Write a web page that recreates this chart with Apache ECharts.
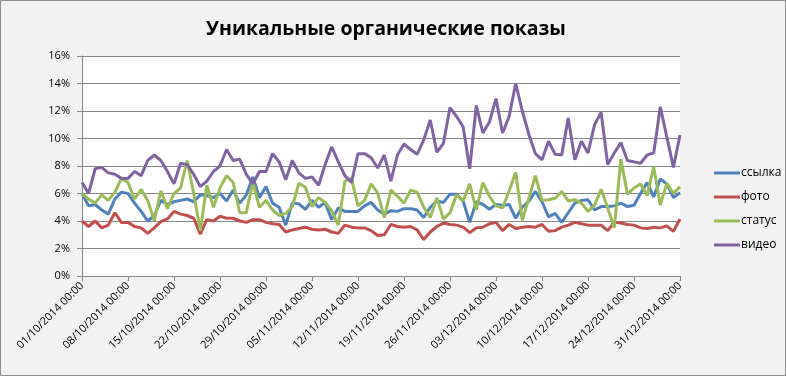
<!DOCTYPE html>
<html>
<head>
<meta charset="utf-8">
<script src="https://cdn.jsdelivr.net/npm/echarts@6/dist/echarts.min.js"></script>
<style>
  html, body { margin: 0; padding: 0; background: #f2f2f2; }
  #chart { width: 786px; height: 376px; }
</style>
</head>
<body>
<div id="chart"></div>
<script>
// 01/10/2014 .. 31/12/2014, daily
const dates = [];
(function () {
  const d = new Date(Date.UTC(2014, 9, 1));
  const end = new Date(Date.UTC(2014, 11, 31));
  while (d <= end) {
    const dd = String(d.getUTCDate()).padStart(2, "0");
    const mm = String(d.getUTCMonth() + 1).padStart(2, "0");
    dates.push(dd + "/" + mm + "/" + d.getUTCFullYear() + " 00:00");
    d.setUTCDate(d.getUTCDate() + 1);
  }
})();

const seriesNames = ["ссылка", "фото", "статус", "видео"];

const link = [
  6.0, 5.1, 5.2, 4.8, 4.5, 5.6, 6.1, 6.0, 5.3, 4.7, 4.0, 4.4, 5.5, 5.2, 5.4, 5.5,
  5.6, 5.4, 5.9, 5.85, 5.7, 6.0, 5.45, 6.25, 5.3, 5.9, 7.2, 5.7, 6.5, 5.3, 5.0, 3.7,
  5.3, 5.25, 4.85, 5.5, 5.0, 5.35, 4.1, 4.95, 4.7, 4.7, 4.7, 5.1, 5.35, 4.8, 4.5, 4.75,
  4.7, 4.9, 4.9, 4.8, 4.25, 5.0, 5.45, 5.35, 5.95, 5.95, 5.45, 3.9, 5.4, 5.2, 4.85, 5.2,
  5.15, 5.2, 4.2, 5.0, 5.45, 6.15, 5.4, 4.3, 4.55, 3.9, 4.6, 5.3, 5.5, 5.55, 4.8, 5.05,
  5.05, 5.1, 5.3, 5.05, 5.15, 6.0, 6.8, 5.75, 7.05, 6.7, 5.7, 6.05
];
const photo = [
  4.0, 3.6, 4.0, 3.5, 3.7, 4.6, 3.9, 3.9, 3.6, 3.5, 3.1, 3.5, 3.95, 4.15, 4.7, 4.5,
  4.4, 4.2, 3.05, 4.1, 4.0, 4.35, 4.2, 4.2, 4.0, 3.9, 4.1, 4.1, 3.9, 3.8, 3.75, 3.2,
  3.35, 3.45, 3.55, 3.4, 3.35, 3.4, 3.2, 3.1, 3.7, 3.55, 3.5, 3.5, 3.3, 2.95, 3.0, 3.75,
  3.6, 3.55, 3.6, 3.35, 2.65, 3.2, 3.6, 3.85, 3.75, 3.7, 3.55, 3.15, 3.5, 3.55, 3.8, 3.9,
  3.3, 3.75, 3.45, 3.55, 3.6, 3.55, 3.75, 3.25, 3.3, 3.55, 3.7, 3.9, 3.8, 3.7, 3.7, 3.7,
  3.3, 3.9, 3.85, 3.75, 3.7, 3.5, 3.45, 3.55, 3.5, 3.65, 3.25, 4.15
];
const status = [
  6.0, 5.6, 5.3, 5.9, 5.5, 6.1, 7.1, 6.8, 5.6, 6.3, 5.5, 4.0, 6.2, 4.9, 6.0, 6.4,
  8.4, 6.0, 3.3, 6.6, 5.0, 6.4, 7.3, 6.8, 4.6, 4.6, 6.8, 5.0, 5.5, 4.8, 4.4, 4.55,
  5.05, 6.75, 6.45, 5.05, 5.7, 5.35, 4.75, 3.7, 6.9, 7.1, 5.1, 5.5, 6.7, 6.05, 4.25, 6.25,
  5.8, 5.3, 6.25, 6.1, 5.0, 4.25, 5.7, 4.15, 4.6, 5.9, 5.45, 6.7, 4.8, 6.8, 5.8, 5.1,
  4.95, 6.2, 7.55, 4.05, 5.65, 7.3, 5.5, 5.55, 5.65, 6.15, 5.45, 5.55, 5.3, 4.7, 5.15, 6.3,
  4.95, 3.5, 8.5, 5.95, 6.4, 6.7, 5.85, 7.95, 5.15, 6.75, 6.0, 6.5
];
const video = [
  6.8, 6.0, 7.8, 7.9, 7.5, 7.4, 7.1, 7.1, 7.6, 7.3, 8.4, 8.8, 8.4, 7.6, 6.7, 8.2,
  8.1, 7.4, 6.5, 6.9, 7.6, 8.0, 9.2, 8.4, 8.5, 7.4, 6.7, 7.6, 7.6, 8.9, 8.3, 7.0,
  8.4, 7.5, 7.1, 7.2, 6.6, 8.1, 9.4, 8.3, 7.3, 6.8, 8.9, 8.9, 8.6, 7.85, 8.8, 6.9,
  8.8, 9.6, 9.2, 8.85, 9.9, 11.35, 9.0, 9.65, 12.25, 11.6, 10.85, 7.8, 12.4, 10.4, 11.2, 12.9,
  10.4, 11.6, 14.0, 12.0, 10.3, 8.9, 8.45, 9.8, 8.85, 8.8, 11.5, 8.45, 9.8, 8.95, 11.0, 11.9,
  8.1, 8.95, 9.7, 8.4, 8.3, 8.2, 8.8, 8.95, 12.3, 10.1, 7.9, 10.25
];

const colors = ["#4F81BD", "#C0504D", "#9BBB59", "#8064A2"];
const values = [link, photo, status, video];

const chart = echarts.init(document.getElementById("chart"));
chart.setOption({
  backgroundColor: "#f2f2f2",
  animation: false,
  color: colors,
  textStyle: { fontFamily: "Open Sans" },
  title: {
    text: "Уникальные органические показы",
    left: 381,
    textAlign: "center",
    top: 14,
    textStyle: { fontSize: 19.5, fontWeight: "bold", color: "#000", fontFamily: "Open Sans" }
  },
  graphic: [{
    type: "rect",
    shape: { x: 0.5, y: 0.5, width: 785, height: 375 },
    style: { fill: "none", stroke: "#8c8c8c", lineWidth: 1 },
    silent: true
  }],
  legend: {
    orient: "vertical",
    left: 709,
    top: 162,
    itemWidth: 26,
    itemHeight: 3,
    itemGap: 12,
    icon: "rect",
    textStyle: { fontSize: 12, color: "#000", fontFamily: "Open Sans", padding: [0, 0, 0, -4] },
    data: seriesNames
  },
  grid: {
    left: 82,
    right: 106,
    top: 56,
    bottom: 100,
    show: true,
    backgroundColor: "#ffffff",
    borderWidth: 0
  },
  xAxis: {
    type: "category",
    data: dates,
    boundaryGap: false,
    axisLine: { lineStyle: { color: "#868686" } },
    axisTick: { interval: 6, length: 5, lineStyle: { color: "#868686" } },
    axisLabel: { interval: 6, rotate: 45, fontSize: 11, color: "#000", margin: 8 }
  },
  yAxis: {
    type: "value",
    min: 0,
    max: 16,
    interval: 2,
    axisLine: { show: true, lineStyle: { color: "#868686" } },
    axisTick: { show: true, length: 5, lineStyle: { color: "#868686" } },
    axisLabel: { formatter: "{value}%", fontSize: 11, color: "#000", margin: 12 },
    splitLine: { lineStyle: { color: "#868686", width: 1 } }
  },
  series: seriesNames.map((name, k) => ({
    name: name,
    type: "line",
    data: values[k],
    symbol: "none",
    lineStyle: { width: 3, color: colors[k] },
    itemStyle: { color: colors[k] }
  }))
});
</script>
</body>
</html>
